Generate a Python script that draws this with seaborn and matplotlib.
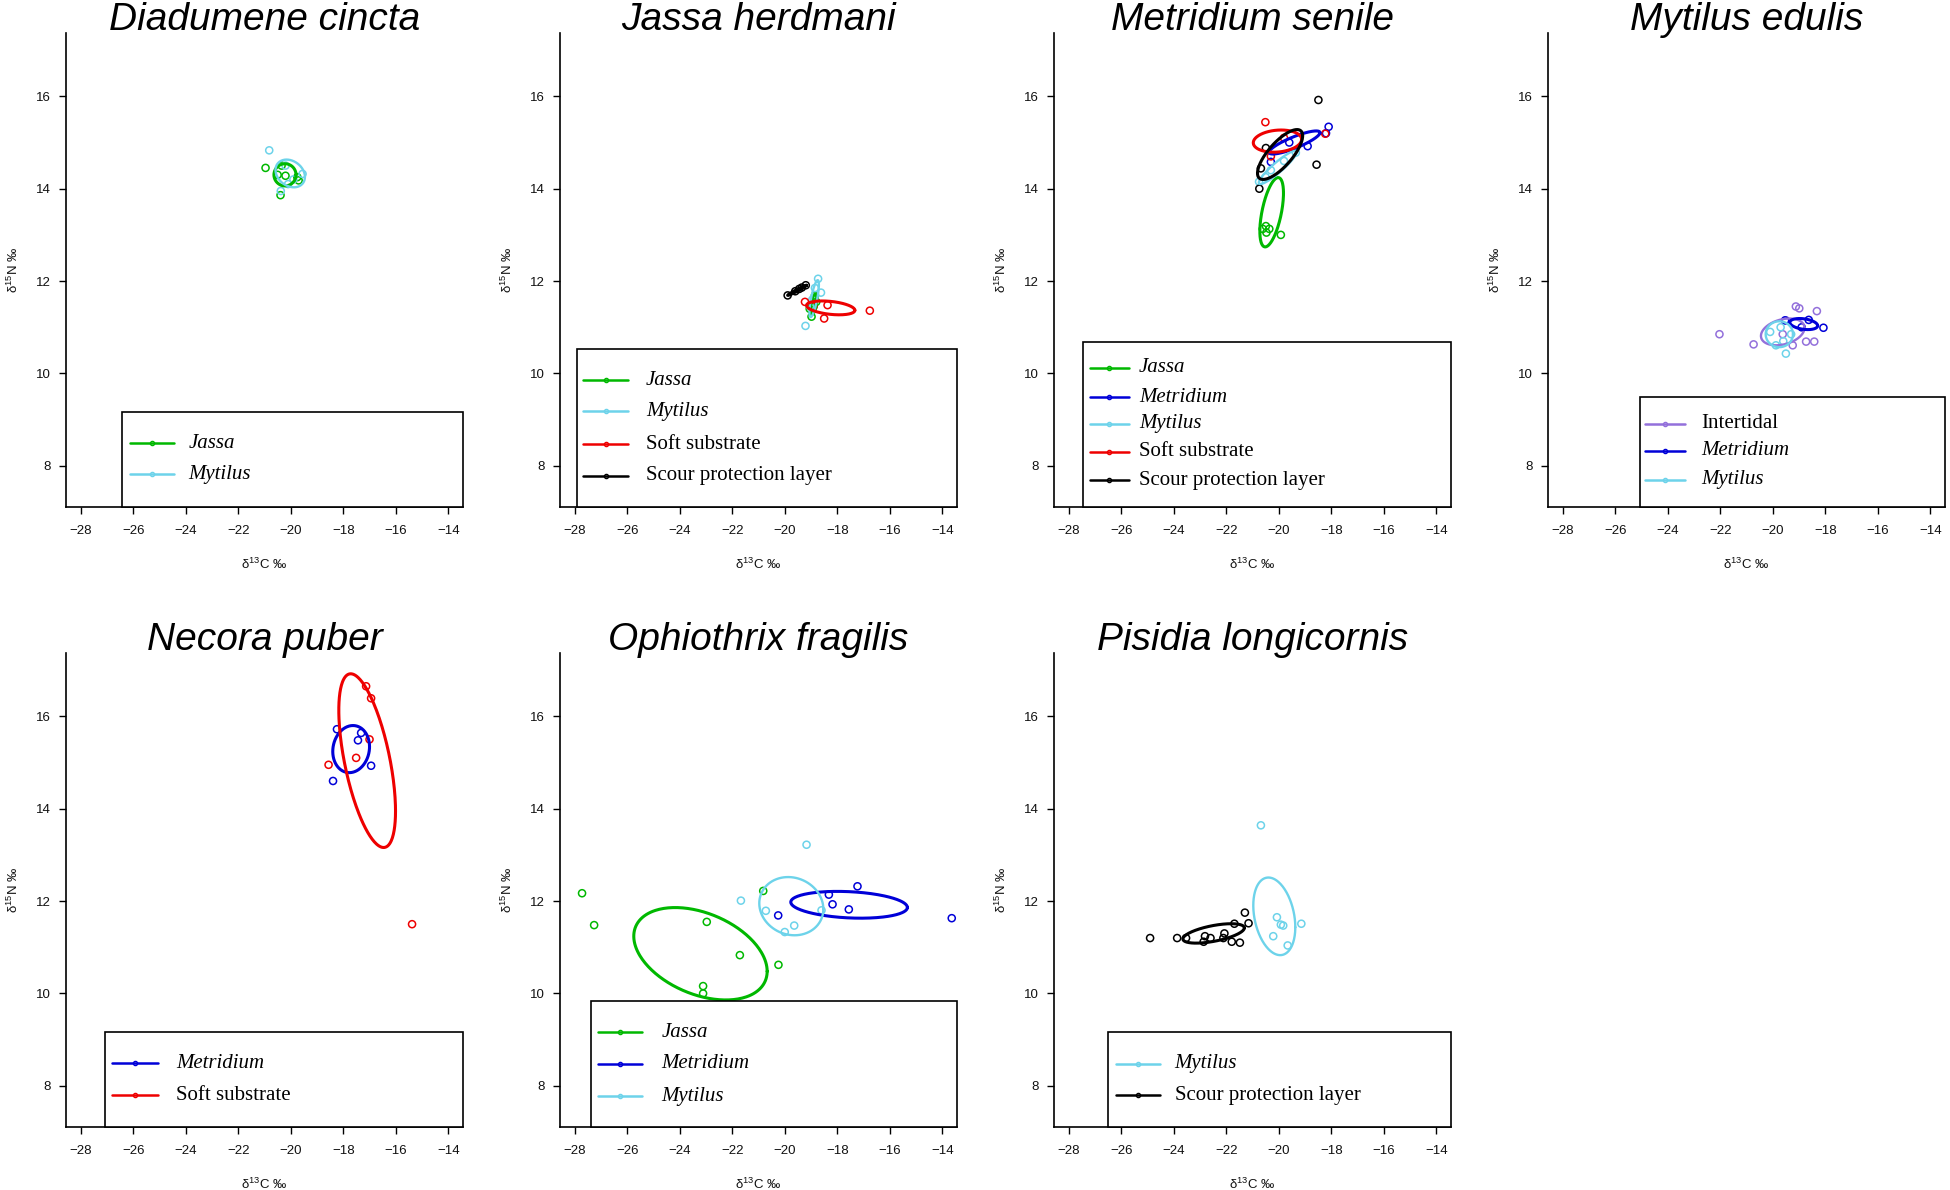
import numpy as np
import pandas as pd
import seaborn as sns
import matplotlib.pyplot as plt
from matplotlib.patches import Rectangle

sns.set_style("ticks")
plt.rcParams['font.family'] = ['Liberation Sans', 'DejaVu Sans']
plt.rcParams['mathtext.fontset'] = 'custom'
plt.rcParams['mathtext.rm'] = 'Liberation Sans'

titles = ["Diadumene cincta", "Jassa herdmani", "Metridium senile", "Mytilus edulis",
          "Necora puber", "Ophiothrix fragilis", "Pisidia longicornis"]

colours = {"Jassa": "#00b800", "Metridium": "#0000d8", "Mytilus": "#6dd3ea",
           "Soft substrate": "#ee0000", "Scour protection layer": "#000000",
           "Intertidal": "#9370db"}
italic_groups = ["Jassa", "Metridium", "Mytilus"]

# --- sample points (d13C, d15N) per panel ---
dc_grp = ["Jassa"] * 7 + ["Mytilus"] * 6
dc_x = [-20.96, -20.39, -20.20, -20.35, -19.75, -19.70, -20.50,
        -20.82, -19.55, -20.38, -20.20, -19.90, -20.10]
dc_y = [14.45, 13.86, 14.28, 14.50, 14.25, 14.18, 14.30,
        14.83, 14.32, 13.95, 14.50, 14.20, 14.10]

jh_grp = ["Jassa"] * 5 + ["Mytilus"] * 6 + ["Soft substrate"] * 5 + ["Scour protection layer"] * 5
jh_x = [-18.98, -18.85, -18.92, -18.80, -19.05,
        -18.73, -18.62, -19.21, -19.04, -18.85, -18.95,
        -16.76, -18.50, -18.37, -19.23, -18.90,
        -19.89, -19.60, -19.35, -19.20, -19.45]
jh_y = [11.23, 11.69, 11.45, 11.55, 11.40,
        12.05, 11.75, 11.03, 11.45, 11.85, 11.60,
        11.36, 11.19, 11.48, 11.55, 11.45,
        11.69, 11.78, 11.86, 11.91, 11.83]

ms_grp = ["Jassa"] * 5 + ["Metridium"] * 5 + ["Mytilus"] * 5 + ["Soft substrate"] * 4 + ["Scour protection layer"] * 5
ms_x = [-20.49, -20.36, -20.61, -19.92, -20.47,
        -18.10, -20.30, -18.90, -18.20, -19.60,
        -20.75, -20.30, -19.80, -19.35, -20.50,
        -20.51, -18.23, -20.30, -19.80,
        -18.49, -18.56, -20.74, -20.49, -20.68]
ms_y = [13.19, 13.13, 13.13, 13.00, 13.05,
        15.34, 14.58, 14.92, 15.20, 15.00,
        14.15, 14.40, 14.60, 14.78, 14.25,
        15.44, 15.19, 14.70, 15.10,
        15.92, 14.52, 14.00, 14.88, 14.44]

me_grp = ["Intertidal"] * 10 + ["Metridium"] * 4 + ["Mytilus"] * 6
me_x = [-22.03, -20.73, -19.12, -18.99, -18.32, -18.73, -18.42, -19.62, -19.24, -19.50,
        -18.07, -18.63, -19.53, -18.90,
        -19.50, -19.88, -19.70, -20.10, -19.30, -19.60]
me_y = [10.85, 10.63, 11.45, 11.41, 11.35, 10.69, 10.69, 10.85, 10.61, 11.15,
        10.99, 11.16, 11.15, 11.00,
        10.43, 10.61, 11.00, 10.90, 10.85, 10.70]

np_grp = ["Metridium"] * 5 + ["Soft substrate"] * 6
np_x = [-18.24, -17.32, -17.44, -16.94, -18.39,
        -17.13, -16.94, -17.00, -17.51, -18.56, -15.38]
np_y = [15.72, 15.64, 15.48, 14.93, 14.60,
        16.65, 16.39, 15.50, 15.10, 14.95, 11.50]

of_grp = ["Jassa"] * 8 + ["Metridium"] * 6 + ["Mytilus"] * 6
of_x = [-27.72, -27.26, -22.97, -21.71, -20.24, -23.11, -23.11, -20.82,
        -17.23, -18.32, -18.18, -17.56, -20.25, -13.64,
        -19.17, -21.67, -20.72, -19.64, -20.00, -18.60]
of_y = [12.17, 11.48, 11.55, 10.83, 10.62, 10.16, 10.00, 12.22,
        12.32, 12.14, 11.93, 11.82, 11.69, 11.63,
        13.22, 12.01, 11.79, 11.47, 11.33, 11.80]

pl_grp = ["Mytilus"] * 7 + ["Scour protection layer"] * 13
pl_x = [-20.68, -20.07, -19.92, -19.83, -19.14, -20.21, -19.66,
        -24.90, -23.87, -23.53, -22.81, -22.60, -22.86, -22.07, -22.11, -21.79, -21.48, -21.69, -21.29, -21.15]
pl_y = [13.64, 11.65, 11.49, 11.47, 11.51, 11.24, 11.04,
        11.20, 11.20, 11.20, 11.24, 11.20, 11.12, 11.30, 11.20, 11.12, 11.10, 11.51, 11.75, 11.52]

# --- standard ellipses: group, centre x, centre y, sd x, sd y, correlation ---
dc_ell = [("Jassa", -20.22, 14.30, 0.42, 0.24, 0.0),
          ("Mytilus", -20.02, 14.33, 0.56, 0.30, -0.25)]
jh_ell = [("Jassa", -18.90, 11.50, 0.12, 0.22, 0.5),
          ("Mytilus", -18.88, 11.62, 0.18, 0.40, 0.75),
          ("Soft substrate", -18.25, 11.42, 0.92, 0.15, -0.35),
          ("Scour protection layer", -19.53, 11.80, 0.36, 0.11, 0.98)]
ms_ell = [("Jassa", -20.27, 13.49, 0.45, 0.75, 0.55),
          ("Metridium", -19.40, 15.00, 0.97, 0.25, 0.85),
          ("Mytilus", -20.04, 14.46, 0.72, 0.36, 0.92),
          ("Soft substrate", -20.05, 15.03, 0.92, 0.24, 0.15),
          ("Scour protection layer", -19.95, 14.74, 0.86, 0.54, 0.75)]
me_ell = [("Intertidal", -19.62, 10.90, 0.83, 0.29, 0.3),
          ("Metridium", -18.82, 11.07, 0.53, 0.12, -0.3),
          ("Mytilus", -19.75, 10.85, 0.52, 0.28, 0.0)]
np_ell = [("Metridium", -17.70, 15.29, 0.70, 0.51, 0.1),
          ("Soft substrate", -17.09, 15.04, 1.08, 1.88, -0.58)]
of_ell = [("Jassa", -23.21, 10.86, 2.54, 1.00, -0.38),
          ("Metridium", -17.55, 11.92, 2.22, 0.29, -0.2),
          ("Mytilus", -19.75, 11.89, 1.22, 0.63, -0.1)]
pl_ell = [("Mytilus", -20.17, 11.67, 0.80, 0.84, -0.28),
          ("Scour protection layer", -22.48, 11.30, 1.17, 0.21, 0.57)]

legend_order = [["Jassa", "Mytilus"],
                ["Jassa", "Mytilus", "Soft substrate", "Scour protection layer"],
                ["Jassa", "Metridium", "Mytilus", "Soft substrate", "Scour protection layer"],
                ["Intertidal", "Metridium", "Mytilus"],
                ["Metridium", "Soft substrate"],
                ["Jassa", "Metridium", "Mytilus"],
                ["Mytilus", "Scour protection layer"]]

points = [(dc_grp, dc_x, dc_y), (jh_grp, jh_x, jh_y), (ms_grp, ms_x, ms_y), (me_grp, me_x, me_y),
          (np_grp, np_x, np_y), (of_grp, of_x, of_y), (pl_grp, pl_x, pl_y)]
ellipses = [dc_ell, jh_ell, ms_ell, me_ell, np_ell, of_ell, pl_ell]

# legend box layout in axes fractions: left, top, entry rows, line start/end, text x
legend_layout = [(0.142, 0.200, [0.134, 0.069], 0.160, 0.273, 0.308),
                 (0.043, 0.333, [0.267, 0.202, 0.132, 0.066], 0.059, 0.172, 0.216),
                 (0.074, 0.349, [0.294, 0.232, 0.176, 0.117, 0.056], 0.090, 0.188, 0.214),
                 (0.231, 0.232, [0.176, 0.119, 0.058], 0.245, 0.344, 0.386),
                 (0.099, 0.200, [0.134, 0.067], 0.117, 0.231, 0.277),
                 (0.077, 0.265, [0.200, 0.133, 0.065], 0.095, 0.207, 0.256),
                 (0.136, 0.200, [0.133, 0.067], 0.155, 0.266, 0.304)]


def ellipse_xy(cx, cy, sx, sy, rho, n=240):
    t = np.linspace(0, 2 * np.pi, n)
    cov = np.array([[sx ** 2, rho * sx * sy], [rho * sx * sy, sy ** 2]])
    L = np.linalg.cholesky(cov)
    xy = L @ np.vstack([np.cos(t), np.sin(t)])
    return cx + xy[0], cy + xy[1]


W, H = 1950, 1190
fig = plt.figure(figsize=(W / 100, H / 100), dpi=100)
lefts = [66, 560, 1054, 1548]
tops = [33, 653]
aw, ah = 397, 474

for i in range(7):
    row, col = divmod(i, 4)
    ax = fig.add_axes([lefts[col] / W, 1 - (tops[row] + ah) / H, aw / W, ah / H])

    grp, xs, ys = points[i]
    df = pd.DataFrame({"group": grp, "d13C": xs, "d15N": ys})
    sns.scatterplot(data=df, x="d13C", y="d15N", hue="group", palette=colours,
                    s=26, linewidth=1.1, legend=False, ax=ax, zorder=3)
    pts = ax.collections[-1]
    pts.set_edgecolors(pts.get_facecolors())
    pts.set_facecolors("none")

    for g, cx, cy, sx, sy, rho in ellipses[i]:
        ex, ey = ellipse_xy(cx, cy, sx, sy, rho)
        lw = 1.7 if g in ("Mytilus", "Intertidal") else 2.2
        sns.lineplot(x=ex, y=ey, sort=False, estimator=None, color=colours[g],
                     lw=lw, ax=ax, zorder=4)

    ax.set_xlim(-28.56, -13.44)
    ax.set_ylim(7.11, 17.37)
    ax.set_xticks(range(-28, -13, 2))
    ax.set_yticks(range(8, 17, 2))
    ax.tick_params(direction="out", length=5, width=1, colors="black",
                   labelsize=9.5, labelcolor="#111111")
    ax.tick_params(axis="x", pad=8)
    ax.tick_params(axis="y", pad=6)
    for s in ["left", "bottom"]:
        ax.spines[s].set_linewidth(1.2)
        ax.spines[s].set_color("black")
    sns.despine(ax=ax)
    ax.set_xlabel(r"δ$^{13}$C ‰", fontsize=9.5, labelpad=14, color="#111111")
    ax.set_ylabel(r"δ$^{15}$N ‰", fontsize=9.5, labelpad=11, color="#111111")
    ax.set_title(titles[i], fontsize=28, style="italic", y=1.0, pad=2, color="black")

    # legend box
    lx, ly, rows, l0, l1, tx = legend_layout[i]
    ax.add_patch(Rectangle((lx, 0), 1 - lx, ly, transform=ax.transAxes,
                           facecolor="white", edgecolor="black", lw=1.2,
                           zorder=6, clip_on=False))
    for g, yy in zip(legend_order[i], rows):
        ax.plot([l0, l1], [yy, yy], transform=ax.transAxes, color=colours[g],
                lw=1.8, zorder=7, clip_on=False)
        ax.plot([(l0 + l1) / 2], [yy], transform=ax.transAxes, marker="o", ms=3,
                mfc="none", mec=colours[g], mew=1, zorder=7, clip_on=False)
        ax.text(tx, yy, g, transform=ax.transAxes, va="center", ha="left",
                fontsize=15, family=["Liberation Serif", "DejaVu Serif"],
                color="black",
                style="italic" if g in italic_groups else "normal", zorder=8)

fig.savefig("out.png", dpi=100)
